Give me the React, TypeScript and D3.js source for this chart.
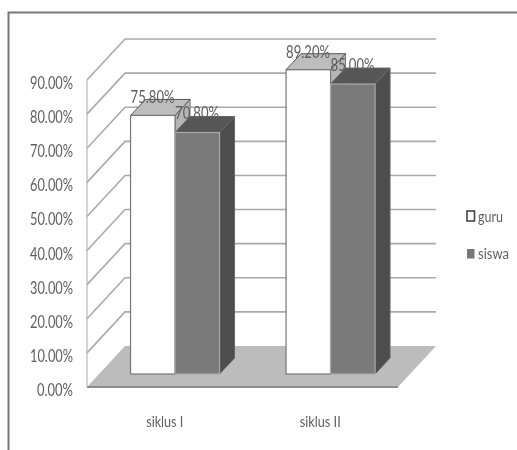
import React from "react";
import * as d3 from "d3";

const categories = ["siklus I", "siklus II"];
const seriesNames = ["guru", "siswa"];
const guru = [75.8, 89.2];
const siswa = [70.8, 85.0];
const ticks = [0, 10, 20, 30, 40, 50, 60, 70, 80, 90];

const W = 517, H = 450;
const x0 = 87, x1 = 398, yBase = 387, yTop = 80;
const depthX = 38, depthY = 41;
const x = d3.scaleBand<string>().domain(categories).range([x0, x1]);
const y = d3.scaleLinear().domain([0, 90]).range([yBase, yTop]);
const pts = (p: number[][]) => p.map((a) => a.join(",")).join(" ");
const pct = (v: number) => `${v.toFixed(2)}%`;
const font = "Lato, 'Open Sans', sans-serif";
const txt = "#5e5e5e";
const barW = 44.5, sx = 15, sy = 16, ox = 10.3, oy = 13;

function Bar({ cx, v, i }: { cx: number; v: number; i: number }) {
  const l = cx + ox - barW + i * barW;
  const r = l + barW;
  const b = yBase - oy;
  const t = y(v) - oy;
  const white = i === 0;
  return (
    <g>
      <polygon points={pts([[r, t], [r + sx, t - sy], [r + sx, b - sy], [r, b]])} fill={white ? "#b5b5b5" : "#4d4d4d"} stroke={white ? "#777" : "#666"} strokeWidth={1} />
      <polygon points={pts([[l, t], [r, t], [r + sx, t - sy], [l + sx, t - sy]])} fill={white ? "#bdbdbd" : "#565656"} stroke={white ? "#555" : "#666"} strokeWidth={1} />
      <rect x={l} y={t} width={barW} height={b - t} fill={white ? "#fff" : "#7a7a7a"} stroke={white ? "#777" : "#a8a8a8"} strokeWidth={1.2} />
    </g>
  );
}

export default function App() {
  return (
    <svg width={W} height={H} viewBox={`0 0 ${W} ${H}`} style={{ position: "absolute", left: 0, top: 0, background: "#fff" }}>
      <defs>
        <filter id="blur" x="-5%" y="-5%" width="110%" height="110%">
          <feGaussianBlur stdDeviation={0.75} />
        </filter>
      </defs>
      <g filter="url(#blur)">
        <path d={`M8.5,${H} V12.5 H${W}`} fill="none" stroke="#777" strokeWidth={2} />
        <polygon points={pts([[x0, yBase], [x1, yBase], [x1 + depthX, yBase - depthY], [x0 + depthX, yBase - depthY]])} fill="#bcbcbc" />
        <line x1={x0} x2={x1} y1={yBase} y2={yBase} stroke="#8c8c8c" strokeWidth={1.8} />
        <line x1={x0} x2={x0} y1={yBase} y2={yTop} stroke="#aaa" strokeWidth={1} />
        {ticks.slice(1).map((t) => (
          <path key={t} d={`M${x0},${y(t)} L${x0 + depthX},${y(t) - depthY} H${x1 + depthX}`} fill="none" stroke="#aaa" strokeWidth={1.6} />
        ))}
        {categories.map((c, k) => (
          <g key={c}>
            <Bar cx={x(c)! + x.bandwidth() / 2} v={guru[k]} i={0} />
            <Bar cx={x(c)! + x.bandwidth() / 2} v={siswa[k]} i={1} />
          </g>
        ))}
        {ticks.map((t) => (
          <text key={t} x={73} y={y(t) + 9} textAnchor="end" fontFamily={font} fontSize={16.5} fill={txt} textLength={t === 0 ? 36 : 43} lengthAdjust="spacingAndGlyphs">
            {pct(t)}
          </text>
        ))}
        {categories.map((c, k) => (
          <g key={c} fontFamily={font} fontSize={16.5} fill={txt}>
            <text x={x(c)! + x.bandwidth() / 2 + ox - barW} y={y(guru[k]) - 25} textLength={44} lengthAdjust="spacingAndGlyphs">{pct(guru[k])}</text>
            <text x={x(c)! + x.bandwidth() / 2 + ox} y={y(siswa[k]) - 26} textLength={44} lengthAdjust="spacingAndGlyphs">{pct(siswa[k])}</text>
          </g>
        ))}
        {categories.map((c) => (
          <text key={c} x={x(c)! + x.bandwidth() / 2} y={427} textAnchor="middle" fontFamily={font} fontSize={15} fill={txt} textLength={c === "siklus I" ? 37 : 41} lengthAdjust="spacingAndGlyphs">{c}</text>
        ))}
        <rect x={467} y={211} width={7.5} height={10} fill="#fff" stroke="#444" strokeWidth={1.6} />
        <rect x={467} y={249} width={7.5} height={9.5} fill="#777" />
        <text x={478} y={222} fontFamily={font} fontSize={15.5} fill={txt} textLength={25} lengthAdjust="spacingAndGlyphs">{seriesNames[0]}</text>
        <text x={478} y={259} fontFamily={font} fontSize={15.5} fill={txt} textLength={31} lengthAdjust="spacingAndGlyphs">{seriesNames[1]}</text>
      </g>
    </svg>
  );
}
